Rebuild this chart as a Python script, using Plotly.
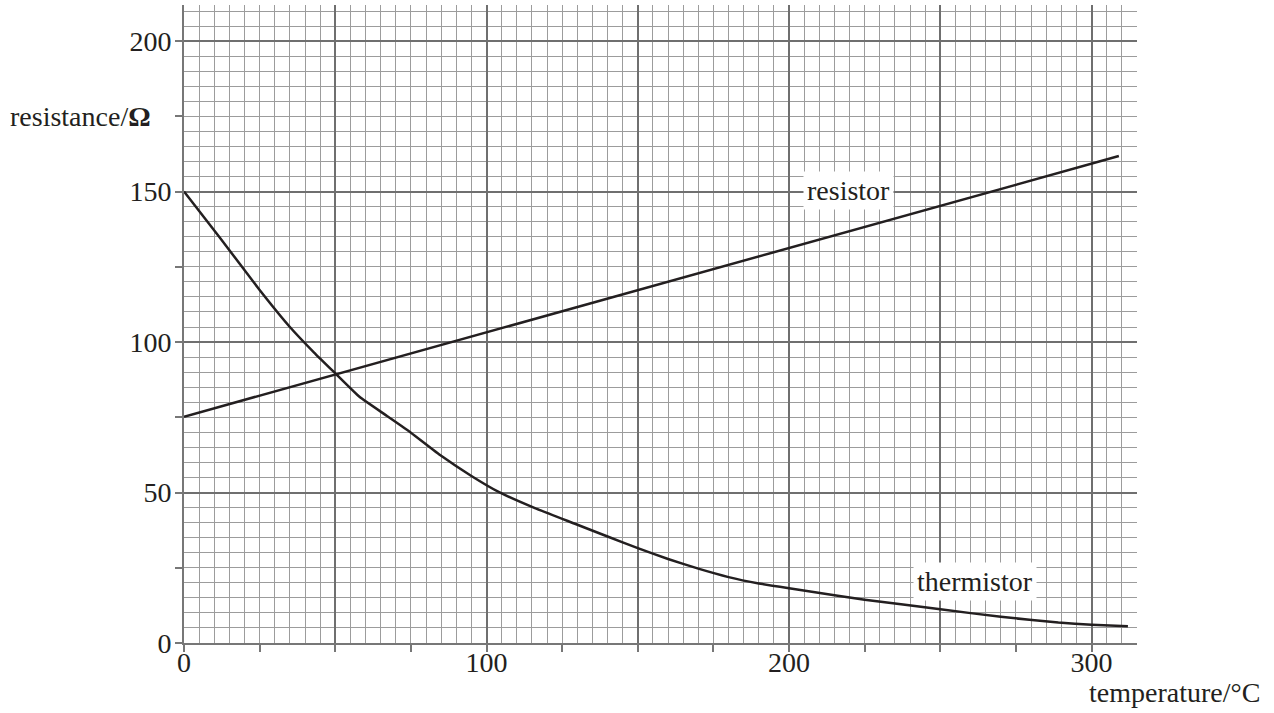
import plotly.graph_objects as go

# ---- data ----
resistor_temp = [0, 309]
resistor_res = [75.2, 161.8]

thermistor_temp = [0, 12, 25, 35, 43, 50, 58, 67, 75, 85, 95, 104, 116, 129, 140,
                   150, 160, 170, 180, 190, 200, 215, 225, 237, 250, 270, 289, 300, 312]
thermistor_res = [150, 134.5, 117.3, 105, 96.5, 89.6, 81.8, 75.5, 69.9, 62.2, 55.5, 50.2, 44.8, 39.7, 35.4,
                  31.5, 27.9, 24.7, 21.9, 19.8, 18.2, 15.9, 14.4, 12.9, 11.2, 8.7, 6.8, 6.1, 5.6]

x_ticks = list(range(0, 301, 25))
x_labels = [str(v) if v % 100 == 0 else "" for v in x_ticks]
y_ticks = list(range(0, 201, 25))
y_labels = [str(v) if v % 50 == 0 else "" for v in y_ticks]
major_x = list(range(0, 301, 50))
major_y = list(range(0, 201, 50))

label_resistor = ("resistor", 219.5, 150.3)
label_thermistor = ("thermistor", 261.5, 20.5)

X_RANGE = [0, 315]
Y_RANGE = [0, 212]

INK = "#231f20"
FONT = "Liberation Serif"

fig = go.Figure()
fig.add_trace(go.Scatter(x=resistor_temp, y=resistor_res, mode="lines",
                         line=dict(color=INK, width=2.5), xaxis="x2", yaxis="y2",
                         showlegend=False))
fig.add_trace(go.Scatter(x=thermistor_temp, y=thermistor_res, mode="lines",
                         line=dict(color=INK, width=2.5, shape="spline", smoothing=0.4),
                         xaxis="x2", yaxis="y2", showlegend=False))

light = "#9c9c9c"
dark = "#6f6f6f"

fig.update_layout(
    width=1274, height=713,
    margin=dict(l=184, r=137, t=5, b=70),
    paper_bgcolor="white", plot_bgcolor="white",
    font=dict(family=FONT, size=28, color=INK),
    xaxis=dict(range=X_RANGE, tickmode="array", tickvals=x_ticks, ticktext=x_labels,
               ticks="outside", ticklen=7, tickwidth=1.5, tickcolor="#777777",
               ticklabelstandoff=-14,
               showgrid=False, zeroline=False,
               showline=True, linecolor="#777777", linewidth=2,
               minor=dict(tickmode="linear", tick0=0, dtick=5, showgrid=True,
                          gridcolor=light, gridwidth=1, ticks=""),
               tickfont=dict(family=FONT, size=28, color=INK), fixedrange=True),
    yaxis=dict(range=Y_RANGE, tickmode="array", tickvals=y_ticks, ticktext=y_labels,
               ticks="outside", ticklen=7, tickwidth=1.5, tickcolor="#777777",
               ticklabelstandoff=-2,
               showgrid=False, zeroline=False,
               showline=True, linecolor="#777777", linewidth=2,
               minor=dict(tickmode="linear", tick0=0, dtick=5, showgrid=True,
                          gridcolor=light, gridwidth=1, ticks=""),
               tickfont=dict(family=FONT, size=28, color=INK), fixedrange=True),
    xaxis2=dict(range=X_RANGE, overlaying="x", tickmode="array", tickvals=major_x,
                showgrid=True, gridcolor=dark, gridwidth=1.5, showticklabels=False,
                ticks="", zeroline=False, showline=False, fixedrange=True),
    yaxis2=dict(range=Y_RANGE, overlaying="y", tickmode="array", tickvals=major_y,
                showgrid=True, gridcolor=dark, gridwidth=1.5, showticklabels=False,
                ticks="", zeroline=False, showline=False, fixedrange=True),
)

for text, lx, ly in (label_resistor, label_thermistor):
    fig.add_annotation(x=lx, y=ly, xref="x2", yref="y2", text=text, showarrow=False,
                       bgcolor="white", borderpad=3,
                       font=dict(family=FONT, size=28, color=INK))

fig.add_annotation(x=-0.1847, y=175, xref="paper", yref="y", xanchor="left", yanchor="middle",
                   text="resistance/<b>Ω</b>", showarrow=False,
                   font=dict(family=FONT, size=28, color=INK))
fig.add_annotation(x=1.131, y=-0.077, xref="paper", yref="paper", xanchor="right", yanchor="middle",
                   text="temperature/°C", showarrow=False,
                   font=dict(family=FONT, size=28, color=INK))

fig.write_html("out.html", config={"displayModeBar": False},
               post_script="document.body.style.margin='0';")
